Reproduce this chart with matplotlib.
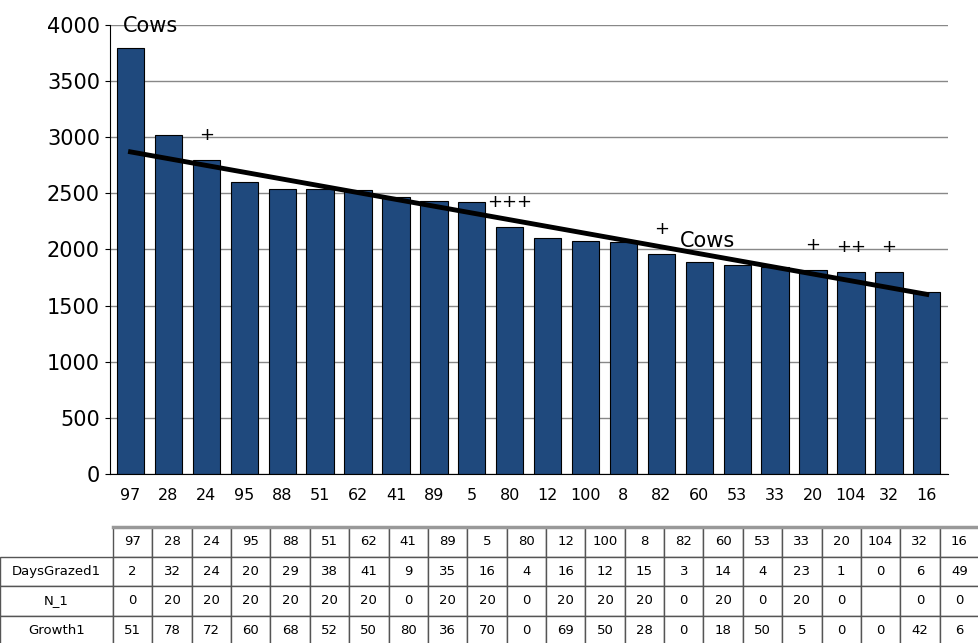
import matplotlib.pyplot as plt
import numpy as np

paddocks = ['97', '28', '24', '95', '88', '51', '62', '41', '89', '5', '80', '12', '100', '8', '82', '60', '53', '33', '20', '104', '32', '16']
values = [3800, 3020, 2800, 2600, 2540, 2540, 2530, 2470, 2430, 2420, 2200, 2100, 2080, 2070, 1960, 1890, 1860, 1840, 1820, 1800, 1800, 1620]
days_grazed = ['2', '32', '24', '20', '29', '38', '41', '9', '35', '16', '4', '16', '12', '15', '3', '14', '4', '23', '1', '0', '6', '49']
n_1 = ['0', '20', '20', '20', '20', '20', '20', '0', '20', '20', '0', '20', '20', '20', '0', '20', '0', '20', '0', '', '0', '0']
growth = ['51', '78', '72', '60', '68', '52', '50', '80', '36', '70', '0', '69', '50', '28', '0', '18', '50', '5', '0', '0', '42', '6']
trend_ends = [2870, 1600]
marks = {2: '+', 10: '+++', 14: '+', 18: '+', 19: '++', 20: '+'}

fig = plt.figure(figsize=(9.79, 6.43), dpi=100)
ax = fig.add_axes([0.112, 0.263, 0.856, 0.698])
x = np.arange(len(values))
ax.bar(x, values, width=0.72, color='#1f497d', edgecolor='black', linewidth=0.8, zorder=2)

# trend line
ax.plot([x[0], x[-1]], trend_ends, color='black', lw=3.5, zorder=3)

for i, m in marks.items():
    ax.text(x[i], values[i] + 140, m, ha='center', va='bottom', fontsize=13)
ax.text(x[0] - 0.2, 3900, 'Cows', fontsize=15, va='bottom')
ax.text(x[14] + 0.5, 1990, 'Cows', fontsize=15, va='bottom')

ax.set_xlim(-0.55, len(values) - 0.45)
ax.set_ylim(0, 4000)
ax.set_yticks(range(0, 4001, 500))
ax.set_xticks(x)
ax.set_xticklabels(paddocks, fontsize=11.5)
ax.tick_params(axis='y', labelsize=15)
ax.tick_params(axis='x', length=0, pad=10)
ax.yaxis.grid(True, color='#888888', lw=1, zorder=0)
for s in ['top', 'right']:
    ax.spines[s].set_visible(False)

# data table below the chart
tax = fig.add_axes([0, -0.003, 1, 0.183])
tax.axis('off')
rows = [[''] + paddocks, ['DaysGrazed1'] + days_grazed, ['N_1'] + n_1, ['Growth1'] + growth]
lw = 113 / 979
cw = (1 - lw) / len(paddocks)
tbl = tax.table(cellText=rows, bbox=[0, 0, 1, 1], colWidths=[lw] + [cw] * len(paddocks), cellLoc='center')
tbl.auto_set_font_size(False)
for (r, c), cell in tbl.get_celld().items():
    cell.set_fontsize(9.5)
    cell.set_edgecolor('#555555')
    if c == 0:
        cell._loc = 'left'
        if r == 0:
            cell.set_linewidth(0)
tax.plot([lw, 1], [1.0, 1.0], color='#999999', lw=2.5, transform=tax.transAxes, clip_on=False)

fig.savefig('out.png')
